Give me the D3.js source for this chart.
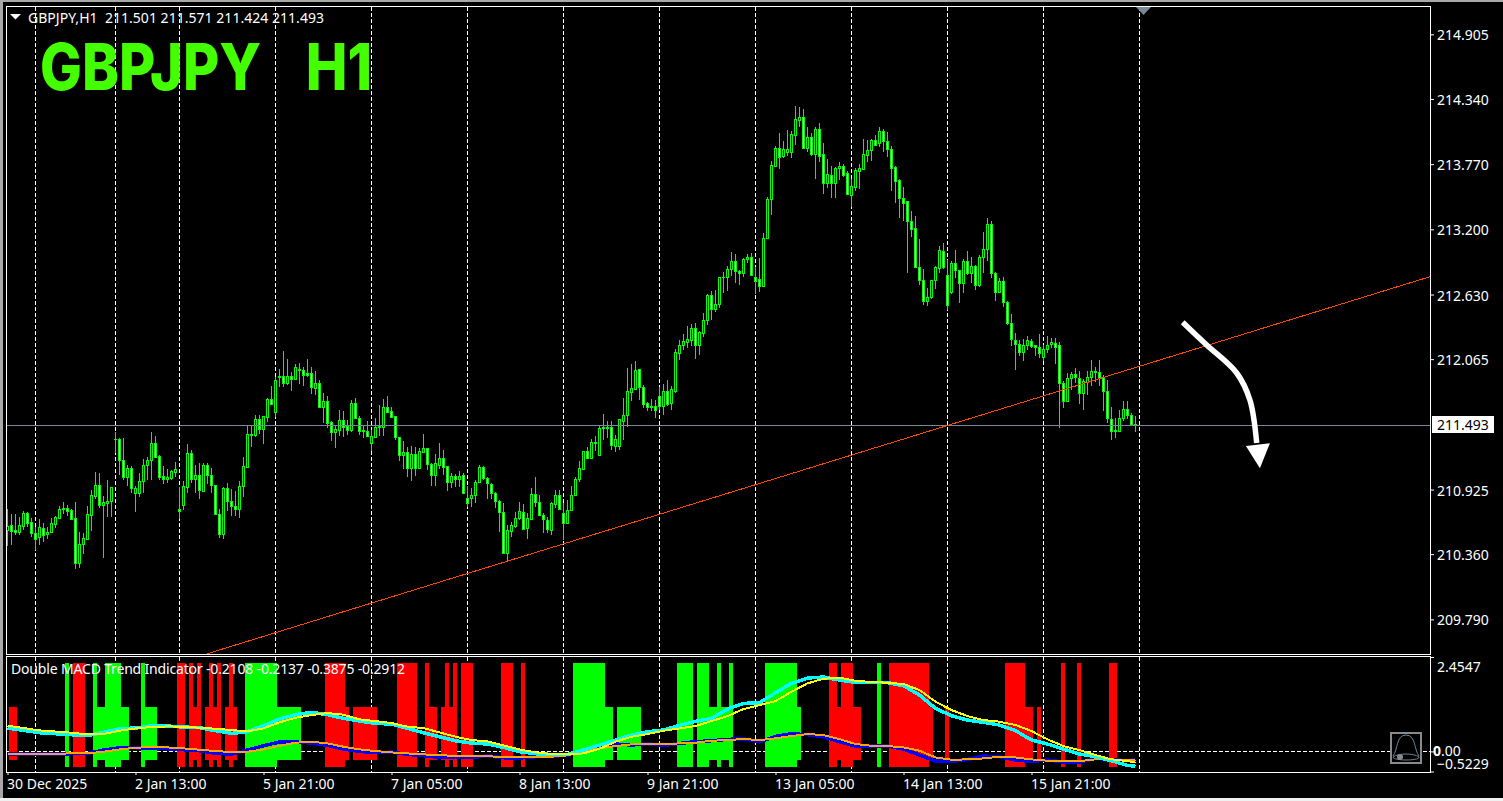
<!DOCTYPE html>
<html><head><meta charset="utf-8">
<script src="https://cdn.jsdelivr.net/npm/d3@7/dist/d3.min.js"></script>
<style>html,body{margin:0;padding:0;background:#000;overflow:hidden}svg{display:block}
text{font-family:"Noto Sans",sans-serif;font-size:14px;fill:#fff;white-space:pre}</style></head><body>
<script>
const opens=[
210.573,210.611,210.570,210.556,210.608,210.719,210.640,210.541,210.512,210.585,
210.538,210.556,210.626,210.678,210.754,210.763,210.742,210.672,210.279,210.451,
210.495,210.704,210.871,210.961,210.786,210.804,210.824,211.363,211.363,211.180,
211.037,211.110,210.891,210.891,210.996,211.136,211.180,211.328,211.215,211.040,
211.019,211.025,211.081,210.751,210.792,210.949,211.241,211.014,211.049,210.914,
211.136,211.049,210.961,210.707,210.538,210.935,210.821,210.783,210.757,210.952,
211.118,211.398,211.404,211.538,211.451,211.562,211.713,211.605,211.906,211.914,
211.859,211.914,211.888,211.973,211.967,211.941,211.941,211.815,211.853,211.649,
211.696,211.512,211.430,211.448,211.529,211.477,211.448,211.678,211.547,211.439,
211.433,211.334,211.387,211.468,211.474,211.643,211.608,211.564,211.387,211.229,
211.250,211.113,211.232,211.113,211.253,211.285,211.145,211.054,211.139,211.197,
211.127,210.993,211.040,211.019,211.051,210.853,210.853,210.874,210.987,211.118,
211.028,210.976,210.897,210.827,210.725,210.366,210.565,210.608,210.672,210.731,
210.591,210.670,210.882,210.818,210.699,210.655,210.573,210.801,210.874,210.716,
210.635,210.745,210.874,211.014,211.107,211.258,211.203,211.334,211.229,211.460,
211.462,211.468,211.305,211.305,211.527,211.576,211.780,211.804,211.975,211.818,
211.678,211.652,211.652,211.739,211.658,211.783,211.681,211.789,212.121,212.185,
212.217,212.235,212.334,212.191,212.296,212.404,212.623,212.506,212.544,212.780,
212.780,212.856,212.920,212.832,212.815,212.937,212.955,212.786,212.768,212.707,
213.121,213.468,213.756,213.908,213.838,213.879,213.879,214.027,214.159,214.179,
213.914,214.004,213.861,214.074,213.855,213.608,213.672,213.608,213.733,213.750,
213.689,213.503,213.567,213.713,213.730,213.852,213.890,213.978,213.952,214.057,
213.975,213.899,213.742,213.628,213.471,213.444,213.269,213.208,212.867,212.754,
212.576,212.605,212.754,212.864,213.007,212.797,212.649,212.902,212.841,212.733,
212.920,212.821,212.876,212.710,212.955,213.025,213.243,212.815,212.649,212.745,
212.561,212.378,212.229,212.200,212.130,212.185,212.226,212.185,212.174,212.080,
212.150,212.194,212.208,212.185,211.853,211.701,211.902,211.937,211.902,211.771,
211.867,211.911,211.949,211.949,211.911,211.783,211.544,211.439,211.439,211.553,
211.626,211.579,211.501];
const closes=[
210.608,210.565,210.556,210.611,210.719,210.635,210.547,210.495,210.594,210.530,
210.556,210.632,210.684,210.751,210.763,210.737,210.667,210.279,210.448,210.498,
210.707,210.874,210.961,210.792,210.812,210.821,210.944,211.363,211.180,211.031,
211.110,210.935,210.935,210.996,211.136,211.180,211.328,211.212,211.037,211.019,
211.034,211.086,211.101,210.740,210.955,211.241,211.014,211.049,210.917,211.136,
211.049,210.961,210.707,210.538,210.935,210.821,210.783,210.757,210.952,211.127,
211.407,211.407,211.538,211.451,211.564,211.713,211.669,211.879,211.914,211.859,
211.914,211.888,211.993,211.978,211.929,211.926,211.824,211.853,211.649,211.696,
211.509,211.430,211.451,211.529,211.474,211.448,211.678,211.553,211.439,211.442,
211.395,211.392,211.468,211.480,211.643,211.605,211.559,211.387,211.229,211.250,
211.113,211.235,211.113,211.258,211.285,211.145,211.054,211.153,211.197,211.124,
210.993,211.040,211.019,211.043,210.897,210.809,210.874,210.987,211.118,211.028,
210.979,210.891,210.827,210.731,210.366,210.568,210.611,210.672,210.734,210.582,
210.672,210.882,210.818,210.699,210.670,210.576,210.804,210.874,210.751,210.635,
210.742,210.874,211.014,211.110,211.258,211.203,211.337,211.337,211.460,211.468,
211.468,211.314,211.366,211.538,211.573,211.783,211.809,211.967,211.818,211.675,
211.646,211.649,211.623,211.658,211.783,211.675,211.801,212.124,212.185,212.220,
212.238,212.334,212.191,212.302,212.404,212.623,212.500,212.544,212.780,212.783,
212.856,212.920,212.832,212.815,212.937,212.955,212.798,212.745,212.707,213.121,
213.462,213.759,213.908,213.835,213.899,213.899,214.030,214.161,214.179,213.914,
214.004,213.861,214.074,213.844,213.608,213.680,213.608,213.736,213.750,213.675,
213.509,213.576,213.718,213.733,213.855,213.890,213.981,213.940,214.057,213.975,
213.899,213.739,213.625,213.471,213.433,213.275,213.205,212.873,212.754,212.576,
212.605,212.754,212.867,213.016,212.873,212.541,212.902,212.841,212.733,212.920,
212.821,212.876,212.710,212.955,213.025,213.243,212.815,212.649,212.745,212.561,
212.377,212.238,212.200,212.130,212.185,212.229,212.182,212.174,212.115,212.150,
212.185,212.211,212.174,211.853,211.701,211.902,211.937,211.911,211.771,211.870,
211.911,211.958,211.958,211.900,211.783,211.547,211.433,211.445,211.553,211.626,
211.579,211.497,211.493];
const highs=[
210.754,210.710,210.710,210.684,210.734,210.728,210.678,210.600,210.667,210.629,
210.600,210.672,210.693,210.780,210.815,210.789,210.751,210.815,210.553,210.541,
210.780,210.920,211.078,211.066,210.868,211.008,210.949,211.425,211.378,211.375,
211.139,211.130,210.958,211.066,211.194,211.212,211.425,211.390,211.226,211.130,
211.101,211.095,211.165,210.949,210.996,211.323,211.270,211.136,211.153,211.153,
211.153,211.110,210.961,210.754,210.949,210.979,210.929,210.911,210.999,211.206,
211.492,211.489,211.576,211.576,211.567,211.722,211.830,211.906,211.975,212.136,
212.066,211.952,212.022,212.028,211.993,212.066,211.993,211.958,211.882,211.766,
211.742,211.521,211.489,211.620,211.611,211.532,211.704,211.722,211.567,211.486,
211.524,211.445,211.550,211.664,211.713,211.742,211.643,211.564,211.387,211.349,
211.293,211.302,211.296,211.285,211.410,211.285,211.153,211.235,211.331,211.270,
211.130,211.066,211.060,211.086,211.066,210.955,210.935,211.008,211.139,211.130,
211.031,210.984,210.903,210.833,210.807,210.611,210.643,210.725,210.812,210.798,
210.716,210.935,211.034,210.876,210.716,210.687,210.812,210.920,210.920,210.804,
210.833,210.958,211.037,211.174,211.261,211.296,211.366,211.390,211.489,211.585,
211.524,211.524,211.401,211.544,211.728,211.987,212.022,212.048,211.978,211.838,
211.693,211.716,211.707,211.824,211.847,211.882,211.833,212.150,212.232,212.284,
212.354,212.372,212.378,212.311,212.468,212.634,212.663,212.669,212.783,212.830,
212.879,213.002,212.984,212.844,212.946,212.984,212.993,212.873,212.952,213.165,
213.480,213.797,213.928,214.045,213.972,214.068,214.062,214.278,214.266,214.252,
214.091,214.039,214.091,214.129,213.952,213.815,213.753,213.742,213.788,213.771,
213.710,213.640,213.733,213.771,213.989,213.981,213.989,214.024,214.094,214.077,
214.051,213.928,213.753,213.637,213.573,213.447,213.363,213.316,213.115,212.853,
212.686,212.756,212.879,213.054,213.080,212.931,212.923,213.019,212.844,212.940,
213.010,212.960,212.888,212.975,213.176,213.296,213.272,212.826,212.774,212.780,
212.576,212.456,212.290,212.232,212.238,212.270,212.241,212.188,212.281,212.188,
212.270,212.249,212.246,212.214,211.870,211.940,211.955,211.987,211.961,211.891,
211.958,212.057,211.993,212.057,211.923,211.882,211.649,211.547,211.620,211.698,
211.698,211.591,211.571];
const lows=[
210.431,210.439,210.527,210.527,210.570,210.600,210.512,210.396,210.439,210.468,
210.492,210.541,210.585,210.672,210.710,210.693,210.658,210.229,210.241,210.361,
210.492,210.565,210.842,210.760,210.326,210.687,210.687,211.247,211.051,211.008,
210.958,210.891,210.731,210.862,210.894,211.008,211.008,211.197,211.008,210.973,
210.979,211.008,211.031,210.667,210.745,210.897,210.979,210.897,210.844,210.914,
210.970,210.897,210.702,210.503,210.492,210.737,210.696,210.693,210.672,210.862,
211.113,211.299,211.387,211.407,211.323,211.518,211.664,211.559,211.824,211.824,
211.838,211.789,211.882,211.847,211.830,211.911,211.760,211.751,211.649,211.509,
211.462,211.349,211.290,211.392,211.387,211.401,211.430,211.538,211.401,211.372,
211.392,211.264,211.372,211.395,211.392,211.605,211.556,211.358,211.177,211.101,
211.034,210.999,211.043,211.101,211.247,211.095,210.955,210.955,211.101,211.051,
210.911,210.938,210.949,210.949,210.897,210.775,210.775,210.804,210.979,211.008,
210.839,210.842,210.766,210.556,210.361,210.291,210.512,210.585,210.658,210.576,
210.492,210.667,210.775,210.696,210.547,210.541,210.527,210.760,210.745,210.483,
210.629,210.737,210.871,210.993,211.101,211.197,211.197,211.261,211.226,211.358,
211.372,211.270,211.255,211.270,211.358,211.474,211.699,211.795,211.707,211.640,
211.611,211.614,211.550,211.620,211.576,211.658,211.620,211.771,212.057,212.145,
212.165,212.180,212.066,212.101,212.255,212.363,212.407,212.480,212.515,212.646,
212.663,212.792,212.733,212.716,212.786,212.902,212.795,212.634,212.655,212.698,
213.118,213.325,213.753,213.727,213.820,213.841,213.820,213.937,214.097,213.914,
213.873,213.841,213.640,213.788,213.509,213.558,213.474,213.476,213.631,213.660,
213.509,213.395,213.535,213.552,213.724,213.791,213.800,213.928,213.922,213.879,
213.835,213.535,213.433,213.299,213.272,212.821,213.135,212.873,212.710,212.538,
212.529,212.587,212.678,212.815,212.856,212.494,212.637,212.771,212.558,212.643,
212.800,212.727,212.669,212.698,212.815,212.923,212.771,212.576,212.640,212.517,
212.363,212.179,211.970,212.092,212.048,212.144,212.159,212.092,212.077,212.051,
212.115,212.159,212.022,211.465,211.640,211.693,211.795,211.853,211.672,211.620,
211.751,211.830,211.867,211.830,211.611,211.503,211.357,211.378,211.436,211.526,
211.541,211.483,211.424];

const priceTicks=[214.905,214.340,213.770,213.200,212.630,212.065,210.925,210.360,209.790];
const currentPrice=211.493;
const gridBars=[7,27,43,67,91,115,139,163,187,211,235,259,283];
const timeTickBars=[0,32,64,96,128,160,192,224,256];
const timeLabels=["30 Dec 2025","2 Jan 13:00","5 Jan 21:00","7 Jan 05:00","8 Jan 13:00","9 Jan 21:00","13 Jan 05:00","14 Jan 13:00","15 Jan 21:00"];
const trendBars=[50,356], trendPrices=[209.49,212.79];
const arrowBars=[293.8,299.8,307.3,310.6,312.3], arrowPrices=[212.387,212.189,211.944,211.708,211.332];
const arrowHeadBars=[309.6,315.6,313.1], arrowHeadPrices=[211.306,211.329,211.111];

const indBars=[0,8,16,20,24,28,32,36,40,44,48,52,56,60,64,68,72,76,80,84,88,92,96,100,104,108,112,116,120,124,128,132,136,140,144,148,152,156,160,164,168,172,176,180,184,188,192,196,200,204,208,212,216,220,224,228,232,236,240,244,248,252,256,260,264,268,272,276,280,282];
const yellowLine=[0.668,0.546,0.486,0.442,0.451,0.538,0.598,0.633,0.650,0.642,0.616,0.590,0.555,0.520,0.598,0.754,0.876,0.945,0.997,0.954,0.832,0.789,0.737,0.642,0.607,0.494,0.381,0.295,0.260,0.156,0.052,-0.026,-0.069,-0.078,-0.052,0.069,0.251,0.381,0.451,0.538,0.598,0.659,0.789,0.919,1.101,1.205,1.309,1.552,1.769,1.890,1.916,1.838,1.803,1.786,1.751,1.595,1.292,1.075,0.919,0.815,0.772,0.685,0.529,0.312,0.139,0.035,-0.095,-0.208,-0.251,-0.2912];
const cyanLine=[0.607,0.486,0.434,0.407,0.494,0.590,0.607,0.668,0.659,0.633,0.616,0.538,0.468,0.512,0.668,0.841,0.954,1.014,0.954,0.858,0.789,0.728,0.711,0.598,0.486,0.381,0.277,0.217,0.191,0.104,-0.009,-0.061,-0.078,-0.078,0.035,0.165,0.295,0.425,0.512,0.555,0.676,0.780,0.858,1.101,1.248,1.266,1.526,1.769,1.907,1.933,1.855,1.795,1.795,1.786,1.708,1.465,1.118,0.928,0.815,0.754,0.685,0.538,0.295,0.191,0.061,-0.069,-0.139,-0.243,-0.364,-0.3875];
const orangeLine=[-0.069,-0.069,-0.052,-0.052,-0.009,0.052,0.095,0.113,0.104,0.078,0.043,0.009,-0.017,-0.009,0.052,0.147,0.225,0.251,0.208,0.121,0.052,0.009,-0.026,-0.052,-0.078,-0.095,-0.121,-0.121,-0.130,-0.139,-0.139,-0.147,-0.139,-0.104,-0.009,0.078,0.139,0.182,0.199,0.191,0.208,0.225,0.277,0.295,0.321,0.295,0.338,0.399,0.451,0.425,0.321,0.191,0.147,0.139,0.104,0.017,-0.156,-0.217,-0.208,-0.182,-0.139,-0.156,-0.208,-0.243,-0.251,-0.251,-0.208,-0.208,-0.225,-0.2137];
const blueLine=[-0.069,-0.069,-0.061,-0.052,0.035,0.095,0.095,0.078,0.069,0.043,0.017,-0.052,-0.069,0.035,0.147,0.243,0.243,0.217,0.156,0.061,0,-0.035,-0.017,-0.078,-0.113,-0.156,-0.139,-0.165,-0.113,-0.165,-0.173,-0.139,-0.130,-0.095,0.035,0.139,0.191,0.165,0.199,0.156,0.208,0.251,0.277,0.312,0.329,0.251,0.390,0.460,0.433,0.381,0.251,0.139,0.139,0.139,0.061,-0.095,-0.251,-0.260,-0.208,-0.121,-0.139,-0.225,-0.260,-0.225,-0.277,-0.277,-0.182,-0.208,-0.243,-0.2108];

const tallRed=[17,18,19,43,44,46,48,51,53,56,80,81,82,83,84,98,99,100,101,102,105,110,112,114,115,116,124,125,126,129,206,207,209,210,211,221,222,223,224,225,226,227,228,229,230,250,251,252,253,254,264,268,276,277];
const shortRed=[1,2,47,50,52,55,57,85,87,88,89,90,91,92,106,107,109,111,208,212,213,231,235,255,256,258];
const tallGreen=[15,22,25,26,27,28,34,60,61,62,63,64,65,66,67,142,143,144,145,146,147,148,149,168,169,170,171,173,174,175,178,181,190,191,192,193,194,195,196,197,218];
const shortGreen=[23,24,29,30,35,36,37,68,69,70,71,72,73,150,151,153,154,155,156,157,158,176,177,179,180,198];
const tallLevels=[2.30,-0.40], shortLevels=[1.155,-0.213];
const indTicks=[2.4547,0,-0.5229];

const svg=d3.select("body").append("svg").attr("width",1503).attr("height",801);
svg.append("rect").attr("width",1503).attr("height",801).attr("fill","#000");
svg.append("rect").attr("width",1503).attr("height",2).attr("fill","#a8a8a8");
svg.append("rect").attr("width",3).attr("height",801).attr("fill","#a8a8a8");
svg.append("rect").attr("y",798).attr("width",1503).attr("height",3).attr("fill","#f0f0f0");

const x=d3.scaleLinear().domain([0,282]).range([7.5,1135.5]);
const y=d3.scaleLinear().domain([215.144,209.487]).range([7,654]);
const yi=d3.scaleLinear().domain([2.4547,-0.5229]).range([657,771.5]);
const green="#00ff00";
const smallFont='"Noto Sans",sans-serif';

svg.append("defs").append("clipPath").attr("id","mainClip").append("rect").attr("x",7).attr("y",7).attr("width",1423).attr("height",647);

// grid
const grid=svg.append("g").attr("stroke","#fff").attr("stroke-dasharray","4,2").attr("shape-rendering","crispEdges");
grid.selectAll("line.m").data(gridBars).join("line").attr("class","m").attr("x1",d=>x(d)).attr("x2",d=>x(d)).attr("y1",7).attr("y2",654);
grid.selectAll("line.i").data(gridBars).join("line").attr("class","i").attr("x1",d=>x(d)).attr("x2",d=>x(d)).attr("y1",657).attr("y2",772);
grid.append("line").attr("x1",7).attr("x2",1430).attr("y1",Math.round(yi(0))+.5).attr("y2",Math.round(yi(0))+.5);

// candles
const idx=d3.range(opens.length);
const candles=svg.append("g").attr("shape-rendering","crispEdges");
candles.selectAll("line").data(idx).join("line").attr("stroke",green)
 .attr("x1",i=>x(i)).attr("x2",i=>x(i)).attr("y1",i=>Math.round(y(highs[i]))).attr("y2",i=>Math.round(y(lows[i])));
const bodyTop=i=>Math.round(y(Math.max(opens[i],closes[i]))), bodyBot=i=>Math.round(y(Math.min(opens[i],closes[i])));
candles.selectAll("rect.o").data(idx).join("rect").attr("class","o").attr("fill",green)
 .attr("x",i=>x(i)-1.5).attr("width",3).attr("y",bodyTop).attr("height",i=>bodyBot(i)-bodyTop(i)+1);
candles.selectAll("rect.n").data(idx.filter(i=>bodyBot(i)-bodyTop(i)>=2)).join("rect").attr("class","n")
 .attr("fill",i=>closes[i]<opens[i]?"#fff":"#000")
 .attr("x",i=>x(i)-.5).attr("width",1).attr("y",i=>bodyTop(i)+1).attr("height",i=>bodyBot(i)-bodyTop(i)-1);

// current price line
const cy=Math.round(y(currentPrice))+.5;
svg.append("line").attr("x1",7).attr("x2",1430).attr("y1",cy).attr("y2",cy).attr("stroke","#778899").attr("shape-rendering","crispEdges");

// trend line
svg.append("path").attr("clip-path","url(#mainClip)").attr("fill","none").attr("stroke","#ff4500").attr("shape-rendering","crispEdges")
 .attr("d",d3.line().x((d,i)=>x(trendBars[i])).y(d=>y(d))(trendPrices));

// arrow
svg.append("path").attr("fill","none").attr("stroke","#fff").attr("stroke-width",5.5)
 .attr("d",d3.line().x((d,i)=>x(arrowBars[i])).y(d=>y(d)).curve(d3.curveCatmullRom)(arrowPrices));
svg.append("path").attr("fill","#fff")
 .attr("d",d3.line().x((d,i)=>x(arrowHeadBars[i])).y(d=>y(d))(arrowHeadPrices)+"Z");

// markers
svg.append("path").attr("fill","#778899").attr("d","M1136,7H1151L1143.5,15Z");
svg.append("path").attr("fill","#fff").attr("d","M10,14H21L15.5,19.5Z");

// indicator histogram
const hist=svg.append("g").attr("shape-rendering","crispEdges");
function bars(list,levels,color){
 hist.append("g").selectAll("rect").data(list).join("rect").attr("fill",color)
  .attr("x",d=>x(d)-2.5).attr("width",4)
  .attr("y",yi(levels[0])).attr("height",yi(levels[1])-yi(levels[0]));
}
bars(tallRed,tallLevels,"#ff0000");bars(shortRed,shortLevels,"#ff0000");
bars(tallGreen,tallLevels,"#00ff00");bars(shortGreen,shortLevels,"#00ff00");

// indicator lines
const il=d3.line().x((d,i)=>x(indBars[i])).y(d=>yi(d));
[[blueLine,"#0000ff",3.5],[orangeLine,"#ffa500",2],[cyanLine,"#00ffff",3.5],[yellowLine,"#ffff00",2]].forEach(([s,c,w])=>{
 svg.append("path").attr("fill","none").attr("stroke",c).attr("stroke-width",w).attr("shape-rendering","crispEdges").attr("d",il(s));
});

// panes
svg.append("rect").attr("x",6.5).attr("y",6.5).attr("width",1424).attr("height",648).attr("fill","none").attr("stroke","#fff").attr("shape-rendering","crispEdges");
svg.append("rect").attr("x",6.5).attr("y",656.5).attr("width",1424).attr("height",116).attr("fill","none").attr("stroke","#fff").attr("shape-rendering","crispEdges");

// price axis
const ax=svg.append("g").attr("transform","translate(1431,0)").call(d3.axisRight(y).tickValues(priceTicks).tickSize(3).tickPadding(3).tickFormat(d3.format(".3f")));
ax.select(".domain").remove();
ax.selectAll("line").attr("stroke","#fff");
ax.selectAll("text").attr("fill","#fff").attr("dy","0.4em").style("font-family",smallFont).style("font-size","14px");

// current price label
svg.append("rect").attr("x",1432).attr("y",416).attr("width",62).attr("height",17).attr("fill","#fff");
svg.append("text").attr("x",1437).attr("y",429.5).style("fill","#000").text(d3.format(".3f")(currentPrice));

// indicator axis
const ax2=svg.append("g").attr("transform","translate(1431,0)").call(d3.axisRight(yi).tickValues(indTicks).tickSize(3).tickPadding(3).tickFormat(d=>d===0?"0.00":d3.format(".4f")(d)));
ax2.select(".domain").remove();
ax2.selectAll("line").attr("stroke","#fff");
ax2.selectAll("text").attr("fill","#fff").style("font-family",smallFont).style("font-size","14px")
 .attr("dy",d=>d===2.4547?"1.0em":d===0?"0.3em":"-0.25em")
 .attr("x",d=>d===0?2:6);
ax2.selectAll("text").filter(d=>d===0).text("").call(t=>{
 t.append("tspan").style("font-weight","700").text("0");
 t.append("tspan").text(".00");
});

// time axis
const ax3=svg.append("g").attr("transform","translate(0,772)").call(d3.axisBottom(x).tickValues(timeTickBars).tickSize(3).tickPadding(4).tickFormat((d,i)=>timeLabels[i]));
ax3.select(".domain").remove();
ax3.selectAll("line").attr("stroke","#fff");
ax3.selectAll("text").attr("fill","#fff").attr("text-anchor","start").attr("x",-1).style("font-family",smallFont).style("font-size","14px");

// texts
svg.append("text").attr("x",28).attr("y",23).attr("textLength",296).attr("lengthAdjust","spacing").text("GBPJPY,H1  211.501 211.571 211.424 211.493");
svg.append("text").attr("x",11).attr("y",674).attr("textLength",394).attr("lengthAdjust","spacing").text("Double MACD Trend Indicator -0.2108 -0.2137 -0.3875 -0.2912");
svg.append("text").attr("x",40).attr("y",90).attr("textLength",332).attr("lengthAdjust","spacingAndGlyphs").style("word-spacing","11.5px").style("font-family","Inter,sans-serif").style("font-size","64px").style("font-weight","800").style("fill","#44ff00").text("GBPJPY  H1");

// bell icon
const bell=svg.append("g");
bell.append("rect").attr("x",1391).attr("y",733).attr("width",30).attr("height",30).attr("fill","#000").attr("stroke","#8a8a8a").attr("stroke-width",2);
bell.append("path").attr("fill","none").attr("stroke","#6f8296").attr("d","M1393,756C1398,750 1396,735 1406,735C1416,735 1414,750 1419,756");
bell.append("path").attr("fill","none").attr("stroke","#6f8296").attr("d","M1393,757C1398,753 1414,753 1419,757C1420,761 1393,761 1393,757Z");
bell.append("circle").attr("cx",1400).attr("cy",757).attr("r",3).attr("fill","#8a8a8a");
</script></body></html>
